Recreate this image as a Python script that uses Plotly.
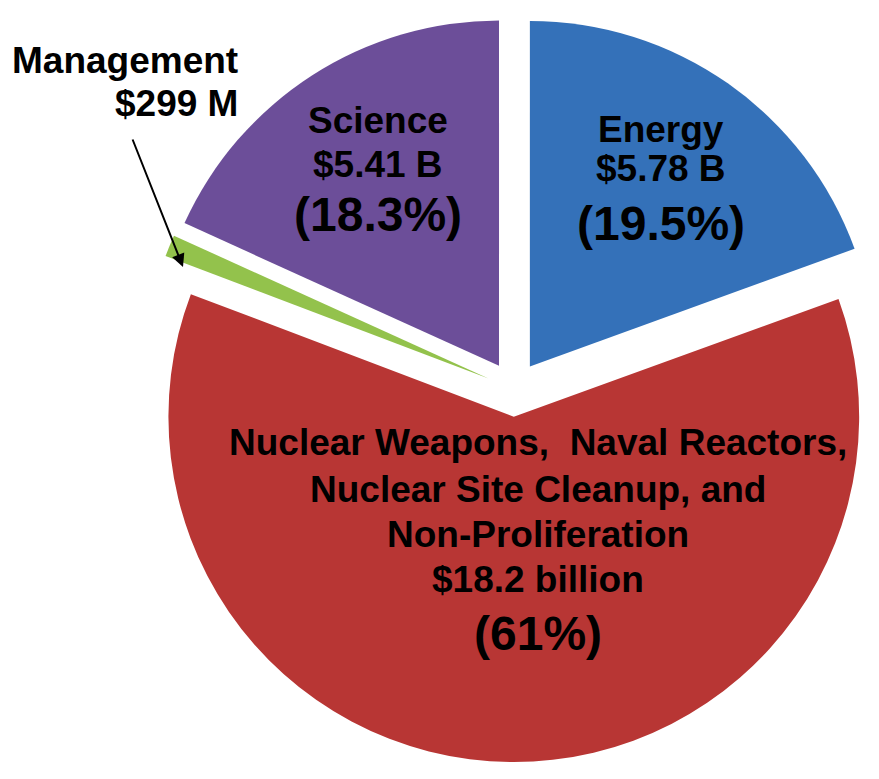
import plotly.graph_objects as go

# ---- data ----
categories = ["Energy",
              "Nuclear Weapons, Naval Reactors, Nuclear Site Cleanup, and Non-Proliferation",
              "Management", "Science"]
values_billion = [5.78, 18.2, 0.299, 5.41]
value_labels = ["$5.78 B", "$18.2 billion", "$299 M", "$5.41 B"]
pct_labels = ["(19.5%)", "(61%)", "", "(18.3%)"]
colors = ["#3471B9", "#B83634", "#93C24C", "#6C4E99"]

W, H = 879, 779
OFF = 7  # page offset of the figure

fig = go.Figure(go.Pie(
    labels=categories,
    values=values_billion,
    sort=False,
    direction="clockwise",
    rotation=0,
    pull=[0.08, 0.08, 0.08, 0.08],
    marker=dict(colors=colors, line=dict(width=0)),
    textinfo="none",
    hoverinfo="label+value",
    showlegend=False,
    domain=dict(x=[0.1513, 1.0], y=[0.0218, 1.0]),
))

FONT = "Arial, 'Liberation Sans', sans-serif"

def px(x, y):
    # screen coordinates -> paper coordinates
    return (x - OFF) / W, 1 - (y - OFF) / H

anns = []
def txt(s, x, y, size, xanchor="center"):
    xx, yy = px(x, y)
    anns.append(dict(text="<b>" + s + "</b>", x=xx, y=yy, xref="paper", yref="paper",
                     xanchor=xanchor, yanchor="middle", showarrow=False,
                     font=dict(family=FONT, size=size, color="black")))

S1, S2 = 37, 48
# Energy
txt(categories[0], 660, 128, S1)
txt(value_labels[0], 660, 168, S1)
txt(pct_labels[0], 660, 222, S2)
# Science
txt(categories[3], 377, 120, S1)
txt(value_labels[3], 377, 163, S1)
txt(pct_labels[3], 377, 214, S2)
# Nuclear
txt("Nuclear Weapons,&nbsp;&nbsp;Naval Reactors,", 537, 441, S1)
txt("Nuclear Site Cleanup, and", 537, 488, S1)
txt("Non-Proliferation", 537, 533, S1)
txt(value_labels[1], 537, 578, S1)
txt(pct_labels[1], 537, 632, S2)
# Management (outside)
txt(categories[2], 239, 60, S1, xanchor="right")
txt(value_labels[2], 239, 103, S1, xanchor="right")

# arrow to Management slice
hx, hy = px(182, 266)
anns.append(dict(text="", x=hx, y=hy, xref="paper", yref="paper",
                 showarrow=True, ax=131 - 182, ay=137 - 266,
                 arrowhead=2, arrowsize=1.3, arrowwidth=2, arrowcolor="black"))

fig.update_layout(
    width=W, height=H,
    margin=dict(l=0, r=0, t=0, b=0),
    paper_bgcolor="white", plot_bgcolor="white",
    annotations=anns,
)

fig.write_html("out.html")
